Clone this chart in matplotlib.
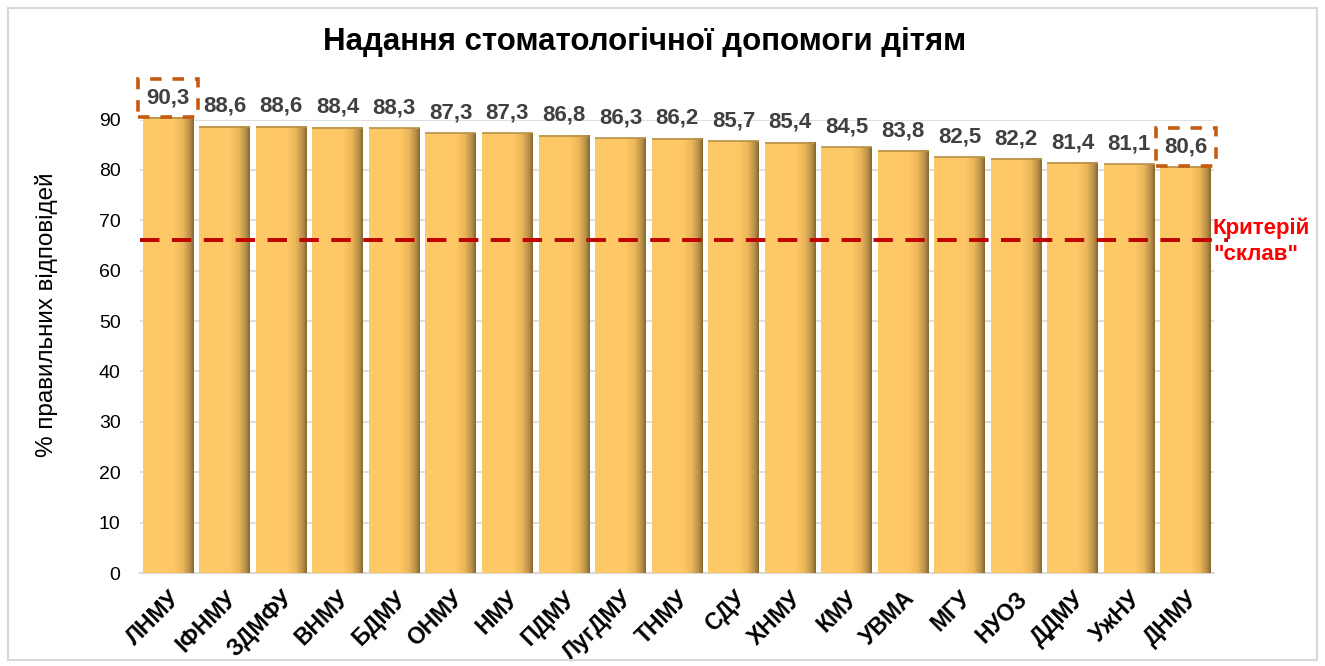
import numpy as np
import matplotlib
matplotlib.use("Agg")
import matplotlib.pyplot as plt
from matplotlib.patches import Rectangle
from matplotlib.colors import LinearSegmentedColormap
import matplotlib.transforms as mtransforms

plt.rcParams['font.family'] = ['Liberation Sans', 'DejaVu Sans']

categories = ["ЛНМУ", "ІФНМУ", "ЗДМФУ", "ВНМУ", "БДМУ", "ОНМУ", "НМУ", "ПДМУ", "ЛугДМУ",
              "ТНМУ", "СДУ", "ХНМУ", "КМУ", "УВМА", "МГУ", "НУОЗ", "ДДМУ", "УжНУ", "ДНМУ"]
values = [90.3, 88.6, 88.6, 88.4, 88.3, 87.3, 87.3, 86.8, 86.3, 86.2, 85.7, 85.4, 84.5,
          83.8, 82.5, 82.2, 81.4, 81.1, 80.6]
criterion = 66
highlight = ["ЛНМУ", "ДНМУ"]
title = "Надання стоматологічної допомоги дітям"
ylabel = "% правильних відповідей"
crit_label = "Критерій\n\"склав\""

W, H = 1325, 666
fig = plt.figure(figsize=(W / 100, H / 100), dpi=100)
fig.patches.append(Rectangle((8 / W, 6 / H), 1 - 16 / W, 1 - 14 / H, transform=fig.transFigure,
                             fill=False, ec="#D9D9D9", lw=1.5))

ax = fig.add_axes([140 / W, 1 - 573 / H, (1214 - 140) / W, (573 - 119.5) / H])
x = np.arange(len(categories))
bars = ax.bar(x, values, width=0.9, color="#FDC966", zorder=2, clip_on=False)

# horizontal shading gradient in each bar
cmap = LinearSegmentedColormap.from_list("g", [(0, "#FECA67"), (0.6, "#FDC865"), (0.78, "#EDB75A"),
                                               (0.92, "#B8914A"), (1.0, "#86682F")])
grad = np.linspace(0, 1, 200).reshape(1, -1)
for b in bars:
    x0, w, h = b.get_x(), b.get_width(), b.get_height()
    im = ax.imshow(grad, extent=(x0, x0 + w, 0, h), aspect="auto", cmap=cmap, zorder=3,
                   clip_on=False)
    im.set_clip_path(b)
    ax.plot([x0, x0 + w], [h, h], color="#B8914A", lw=1.2, zorder=4, clip_on=False,
            solid_capstyle="butt")

ax.set_xlim(-0.5, len(categories) - 0.5)
ax.set_ylim(0, 90)
ax.set_yticks(range(0, 91, 10))
ax.yaxis.grid(True, color="#D9D9D9", lw=1.2, zorder=0)
ax.set_axisbelow(True)
for s in ["top", "right", "left"]:
    ax.spines[s].set_visible(False)
ax.spines["bottom"].set_color("#D9D9D9")
ax.spines["bottom"].set_linewidth(1.5)
ax.tick_params(axis="both", length=0)
ax.tick_params(axis="y", labelsize=14, pad=14, colors="black")
ax.set_xticks(x)
ax.set_xticklabels(categories, rotation=45, ha="right", rotation_mode="anchor",
                   fontsize=16.5, fontweight="bold")
ax.tick_params(axis="x", pad=10)
ax.set_ylabel(ylabel, fontsize=17.5)
ax.yaxis.set_label_coords(-0.076, 0.57)

for xi, v, c in zip(x, values, categories):
    label = f"{v:.1f}".replace(".", ",")
    kw = {}
    if c in highlight:
        kw["bbox"] = dict(boxstyle="square,pad=0.38", fc="none", ec="#C55A11", lw=2.6,
                          ls=(0, (3.2, 3.0)))
    ax.annotate(label, (xi, v), xytext=(0, 7), textcoords="offset points", ha="center",
                va="bottom", fontsize=16, fontweight="bold", color="#404040", zorder=6,
                annotation_clip=False, **kw)

ax.axhline(criterion, xmin=0, xmax=1.013, color="#C00000", lw=2.8, ls=(0, (5, 3.2)),
           zorder=5, clip_on=False)
trans = mtransforms.blended_transform_factory(ax.transAxes, ax.transData)
ax.text(0.999, criterion - 0.1, crit_label, transform=trans, color="#FF0000", fontsize=16,
        fontweight="bold", ha="left", va="center", linespacing=1.3, zorder=7)

fig.text(645 / W, 1 - 42 / H, title, ha="center", va="center", fontsize=22.5, fontweight="bold")

fig.savefig("out.png", dpi=100)
